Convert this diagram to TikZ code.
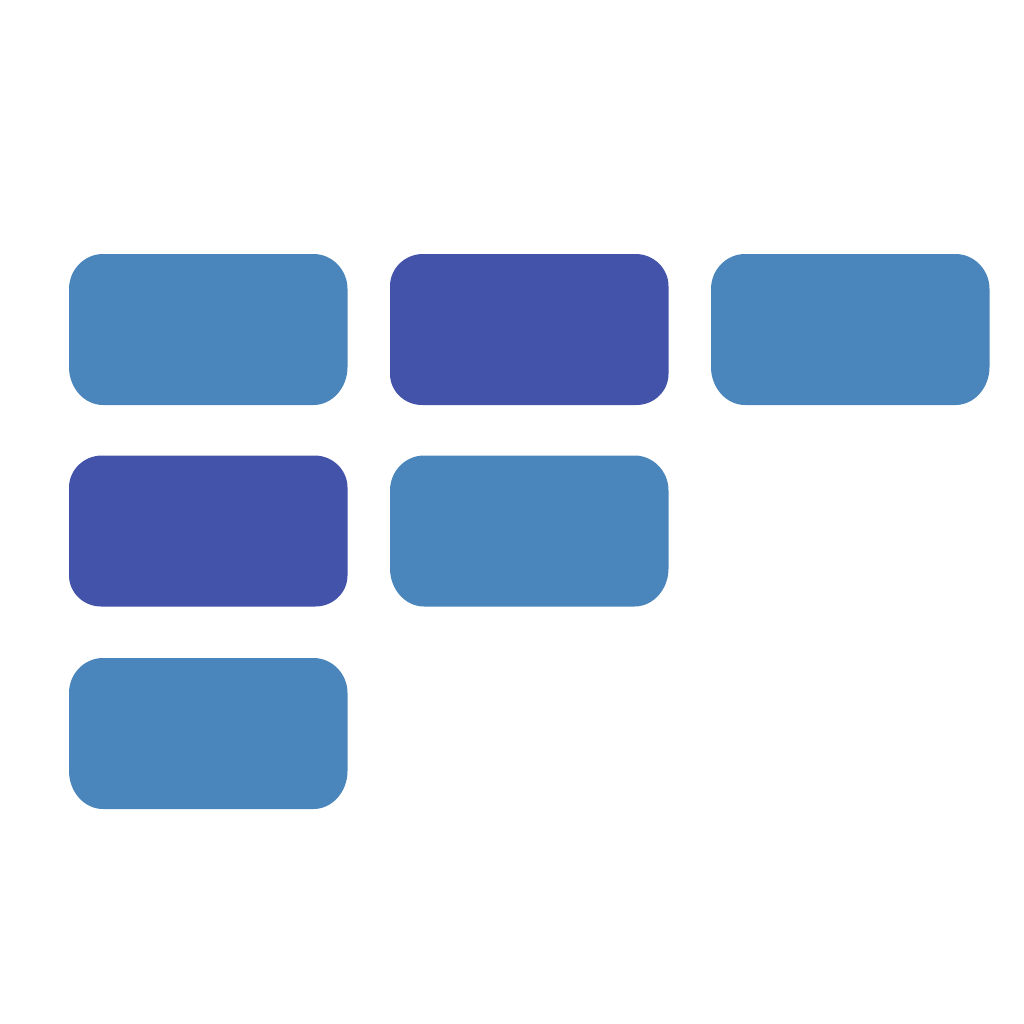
\documentclass[tikz,border=0pt]{standalone}
\usepackage{xcolor}
\usepackage{tikz}
\definecolor{paleblue}{HTML}{4A86BC}
\definecolor{deepblue}{HTML}{4253A9}
% tile outline: left, top, top radius x, top radius y, bottom radius x, bottom radius y
\newcommand{\tileoutline}[6]{
    (#1,#2+#4) .. controls (#1,#2+#4*0.45) and (#1+#3*0.45,#2) .. (#1+#3,#2)
    -- (#1+278.5-#3,#2) .. controls (#1+278.5-#3*0.45,#2) and (#1+278.5,#2+#4*0.45) .. (#1+278.5,#2+#4)
    -- (#1+278.5,#2+151-#6) .. controls (#1+278.5,#2+151-#6*0.45) and (#1+278.5-#5*0.45,#2+151) .. (#1+278.5-#5,#2+151)
    -- (#1+#5,#2+151) .. controls (#1+#5*0.45,#2+151) and (#1,#2+151-#6*0.45) .. (#1,#2+151-#6) -- cycle
}

\begin{document}
\begin{tikzpicture}[
    x=1pt, y=-1pt,
    pale/.style={fill=paleblue},
    deep/.style={fill=deepblue},
]

\useasboundingbox (0,0) rectangle (1024,1024);

% lighter tiles
\foreach \tx/\ty in {69/254, 711/254, 390/455.5, 69/658}
    \fill[pale] \tileoutline{\tx}{\ty}{34}{35}{34}{38};

% darker tiles
\foreach \tx/\ty in {390/254, 69/455.5}
    \fill[deep] \tileoutline{\tx}{\ty}{33}{32}{32}{31};

\end{tikzpicture}
\end{document}
